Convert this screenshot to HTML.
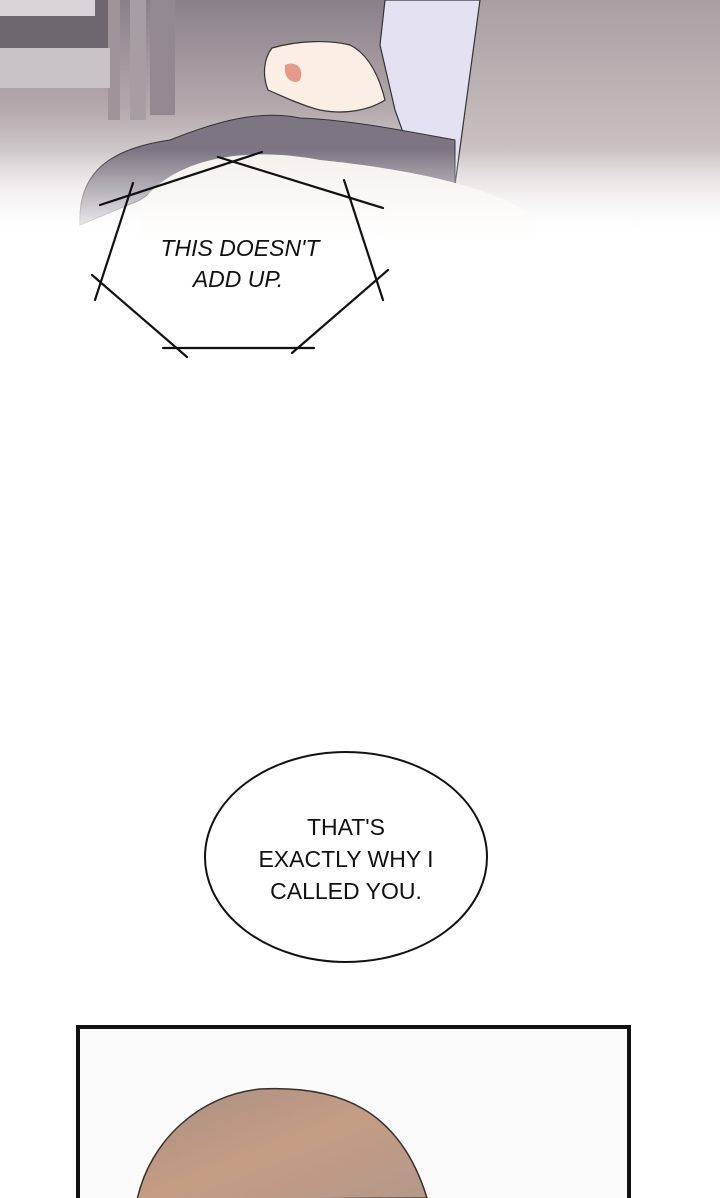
<!DOCTYPE html>
<html><head><style>
html,body{margin:0;padding:0;background:#fff;}
svg{display:block}
</style></head><body>
<svg width="720" height="1198" viewBox="0 0 720 1198" xmlns="http://www.w3.org/2000/svg">
<defs>
<linearGradient id="bg" x1="0" y1="0" x2="0" y2="1">
<stop offset="0" stop-color="#8a8088"/>
<stop offset="0.45" stop-color="#b3a9ad"/>
<stop offset="0.8" stop-color="#e9e5e6"/>
<stop offset="1" stop-color="#ffffff"/>
</linearGradient>
<linearGradient id="chair" x1="0" y1="0" x2="0" y2="1">
<stop offset="0" stop-color="#a99fa3"/>
<stop offset="0.6" stop-color="#c8bfc0"/>
<stop offset="1" stop-color="#ffffff"/>
</linearGradient>
<linearGradient id="fadeL" x1="0" y1="0" x2="0" y2="1">
<stop offset="0" stop-color="#fff" stop-opacity="0"/>
<stop offset="1" stop-color="#fff" stop-opacity="1"/>
</linearGradient>
<linearGradient id="hair" x1="0" y1="0" x2="1" y2="1">
<stop offset="0" stop-color="#a88f84"/>
<stop offset="0.5" stop-color="#c49c84"/>
<stop offset="1" stop-color="#b4988a"/>
</linearGradient>
</defs>
<rect width="720" height="240" fill="url(#bg)"/>
<rect x="0" y="0" width="110" height="48" fill="#6e6770"/>
<rect x="0" y="0" width="95" height="16" fill="#d8d4d8"/>
<rect x="108" y="0" width="12" height="120" fill="#9e949a"/>
<rect x="130" y="0" width="16" height="120" fill="#a79ea3"/>
<rect x="150" y="0" width="25" height="115" fill="#928890"/>
<rect x="0" y="48" width="110" height="40" fill="#c9c2c6"/>
<rect x="460" y="0" width="260" height="240" fill="url(#chair)"/>
<path d="M385 0 L480 0 L455 185 L420 180 L395 110 L380 45 Z" fill="#e4e2f2" stroke="#333" stroke-width="1.2"/>
<path d="M80 225 C78 180 100 150 170 140 C220 120 260 110 300 118 C350 120 400 130 455 140 L455 185 L320 180 C250 160 180 170 140 200 Z" fill="#7d7682" stroke="#333" stroke-width="1"/>
<path d="M140 205 C170 160 240 145 320 160 C420 170 500 190 530 215 L540 240 L140 240 Z" fill="#f4f1ec"/>
<path d="M272 48 C300 40 330 40 350 45 C370 55 380 80 385 100 C370 110 345 115 320 110 C300 105 280 95 268 90 C262 75 264 58 272 48 Z" fill="#fbeee4" stroke="#333" stroke-width="1.2"/>
<path d="M285 65 C295 60 305 68 300 80 C295 85 285 80 285 70 Z" fill="#e59a8a"/>
<rect x="0" y="150" width="720" height="90" fill="url(#fadeL)"/>
<g stroke="#111" stroke-width="2.2" stroke-linecap="round">
<line x1="100" y1="205" x2="262" y2="152"/>
<line x1="218" y1="157" x2="383" y2="208"/>
<line x1="344" y1="180" x2="383" y2="300"/>
<line x1="133" y1="183" x2="95" y2="300"/>
<line x1="92" y1="275" x2="187" y2="357"/>
<line x1="163" y1="348" x2="314" y2="348"/>
<line x1="292" y1="353" x2="388" y2="270"/>
</g>
<g font-family="Liberation Sans, sans-serif" font-size="23" font-style="italic" fill="#111" text-anchor="middle">
<text x="240" y="256">THIS DOESN'T</text>
<text x="238" y="287">ADD UP.</text>
</g>
<ellipse cx="346" cy="857" rx="141" ry="105" fill="#fff" stroke="#111" stroke-width="2"/>
<g font-family="Liberation Sans, sans-serif" font-size="23" fill="#111" text-anchor="middle">
<text x="346" y="835">THAT'S</text>
<text x="346" y="867">EXACTLY WHY I</text>
<text x="346" y="899">CALLED YOU.</text>
</g>
<rect x="78" y="1027" width="551" height="180" fill="#fbfafa" stroke="#111" stroke-width="4"/>
<path d="M137 1200 C150 1140 200 1095 260 1089 C340 1085 400 1110 427 1198 Z" fill="url(#hair)" stroke="#3a2f2a" stroke-width="1.5"/>
</svg>
</body></html>
